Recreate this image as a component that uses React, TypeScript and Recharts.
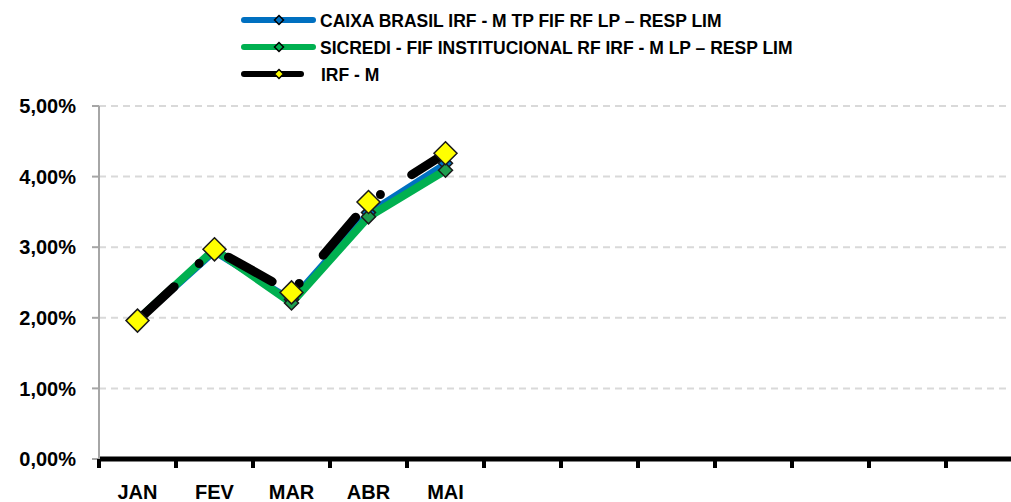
import React from "react";
import { LineChart, Line, XAxis, YAxis, CartesianGrid } from "recharts";

const months = ["JAN", "FEV", "MAR", "ABR", "MAI", "JUN", "JUL", "AGO", "SET", "OUT", "NOV", "DEZ"];
const xTickLabels = ["JAN", "FEV", "MAR", "ABR", "MAI", "", "", "", "", "", "", ""];
const caixa = [1.95, 2.93, 2.26, 3.49, 4.19];
const sicredi = [1.97, 2.97, 2.21, 3.43, 4.09];
const irfm = [1.96, 2.97, 2.36, 3.64, 4.33];
const yTicks = [0, 1, 2, 3, 4, 5];
const seriesNames = [
  "CAIXA BRASIL IRF - M TP FIF RF LP – RESP LIM",
  "SICREDI - FIF INSTITUCIONAL RF IRF - M LP – RESP LIM",
  "IRF - M",
];

const data = months.map((m, i) => ({
  month: m,
  caixa: i < caixa.length ? caixa[i] : null,
  sicredi: i < sicredi.length ? sicredi[i] : null,
  irfm: i < irfm.length ? irfm[i] : null,
}));

const CHART_W = 1040;
const CHART_H = 502;
const MARGIN = { top: 106, right: 17, bottom: 0, left: 0 };
const Y_W = 99;
const X_H = 43;
const PLOT_W = CHART_W - MARGIN.left - MARGIN.right - Y_W;
const BAND = PLOT_W / months.length;
const FONT = "'Liberation Sans', Arial, sans-serif";

const makeDiamond = (r: number, fill: string, stroke: string, sw: number) => (props: any) => {
  const { cx, cy, index, value } = props;
  if (cx == null || cy == null || value == null || (Array.isArray(value) && value[1] == null)) {
    return <g key={`e-${index}`} />;
  }
  const pts = `${cx},${cy - r} ${cx + r},${cy} ${cx},${cy + r} ${cx - r},${cy}`;
  return <polygon key={`d-${index}`} points={pts} fill={fill} stroke={stroke} strokeWidth={sw} />;
};

const XTick = (props: any) => {
  const { x, y, payload, index } = props;
  const idx = payload.index ?? index;
  const label = xTickLabels[idx] ?? "";
  const isLast = idx === months.length - 1;
  return (
    <g>
      <line x1={x - BAND / 2} x2={x - BAND / 2} y1={y} y2={y + 9} stroke="#000" strokeWidth={4} />
      {isLast && <line x1={x + BAND / 2} x2={x + BAND / 2} y1={y} y2={y + 9} stroke="#000" strokeWidth={4} />}
      <text x={x} y={y + 40} textAnchor="middle" fontSize={20} fontWeight="bold" fill="#000" fontFamily={FONT}>
        {label}
      </text>
    </g>
  );
};

const legendItems = [
  { name: seriesNames[0], color: "#0070C0", marker: "#0070C0", len: 75, y: 20 },
  { name: seriesNames[1], color: "#00B050", marker: "#00B050", len: 75, y: 47 },
  { name: seriesNames[2], color: "#000000", marker: "#FFFF00", len: 63, y: 74 },
];

export default function App() {
  return (
    <div
      style={{
        position: "absolute",
        left: 0,
        top: 0,
        width: 1011,
        height: 502,
        overflow: "hidden",
        background: "#fff",
        fontFamily: FONT,
      }}
    >
      <LineChart width={CHART_W} height={CHART_H} data={data} margin={MARGIN}>
        <CartesianGrid vertical={false} stroke="#d9d9d9" strokeWidth={2} strokeDasharray="7 5" />
        <XAxis
          dataKey="month"
          scale="band"
          height={X_H}
          axisLine={{ stroke: "#000", strokeWidth: 5 }}
          tickLine={false}
          tickSize={0}
          tickMargin={0}
          interval={0}
          tick={<XTick />}
        />
        <YAxis
          width={Y_W}
          domain={[0, 5]}
          ticks={yTicks}
          interval={0}
          axisLine={{ stroke: "#a6a6a6", strokeWidth: 2 }}
          tickLine={{ stroke: "#a6a6a6", strokeWidth: 2 }}
          tickSize={7}
          tickMargin={16}
          tick={{ fill: "#000", fontSize: 20, fontWeight: "bold", fontFamily: FONT }}
          tickFormatter={(v: number) => `${v.toFixed(2).replace(".", ",")}%`}
        />
        <Line
          type="linear"
          dataKey="caixa"
          stroke="#0070C0"
          strokeWidth={6}
          isAnimationActive={false}
          dot={makeDiamond(7, "#0070C0", "#1a1a1a", 1.5)}
          activeDot={false}
        />
        <Line
          type="linear"
          dataKey="sicredi"
          stroke="#00B050"
          strokeWidth={8}
          isAnimationActive={false}
          dot={makeDiamond(7, "#1E9E4E", "#1a1a1a", 1.5)}
          activeDot={false}
        />
        <Line
          type="linear"
          dataKey="irfm"
          stroke="#000000"
          strokeWidth={9}
          strokeDasharray="50 34 0 37"
          strokeLinecap="round"
          isAnimationActive={false}
          dot={makeDiamond(11.5, "#FFFF00", "#1a1a1a", 1.5)}
          activeDot={false}
        />
      </LineChart>
      <svg
        width={1011}
        height={95}
        style={{ position: "absolute", left: 0, top: 0, pointerEvents: "none" }}
      >
        {legendItems.map((it, i) => (
          <g key={i}>
            <line
              x1={244}
              x2={241 + it.len - 3}
              y1={it.y}
              y2={it.y}
              stroke={it.color}
              strokeWidth={6}
              strokeLinecap="round"
            />
            <polygon
              points={`279,${it.y - 4.5} 283.5,${it.y} 279,${it.y + 4.5} 274.5,${it.y}`}
              fill={it.marker}
              stroke="#000"
              strokeWidth={1.5}
            />
            <text
              x={i === 2 ? 321 : 320}
              y={it.y + 6.5}
              fontSize={17.5}
              fontWeight="bold"
              fill="#000"
              fontFamily={FONT}
            >
              {it.name}
            </text>
          </g>
        ))}
      </svg>
    </div>
  );
}
